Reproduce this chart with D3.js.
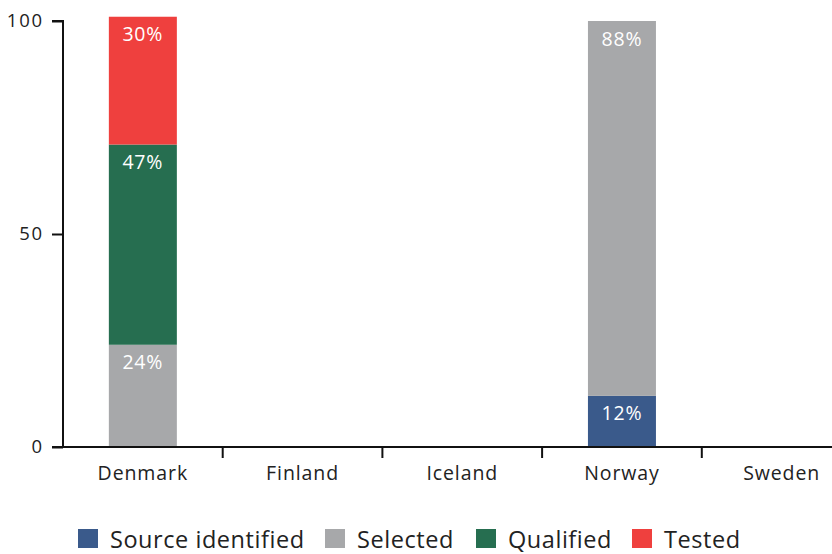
<!DOCTYPE html>
<html>
<head>
<meta charset="utf-8">
<script src="https://cdn.jsdelivr.net/npm/d3@7"></script>
<style>
  html, body { margin: 0; padding: 0; background: #fff; }
  svg { display: block; font-family: "Open Sans", Lato, sans-serif; }
</style>
</head>
<body>
<svg id="chart" width="832" height="554"></svg>
<script>
// Countries on the x axis
const countries = ["Denmark", "Finland", "Iceland", "Norway", "Sweden"];
// Stage names, stacked bottom to top
const stages = ["Source identified", "Selected", "Qualified", "Tested"];
const stageColors = ["#3a5a8b", "#a7a8aa", "#266e50", "#ef403e"];
// Percentage per stage for each country
const sourceIdentified = [0, 0, 0, 12, 0];
const selected = [24, 0, 0, 88, 0];
const qualified = [47, 0, 0, 0, 0];
const tested = [30, 0, 0, 0, 0];
const yTicks = [0, 50, 100];

const seriesValues = [sourceIdentified, selected, qualified, tested];
const rows = countries.map((c, i) => {
  const r = { country: c };
  stages.forEach((s, k) => { r[s] = seriesValues[k][i]; });
  return r;
});

const svg = d3.select("#chart");
const plotLeft = 63, plotTop = 21, plotBottom = 447, bandW = 159.7;

const x = d3.scaleBand().domain(countries)
  .range([plotLeft, plotLeft + bandW * countries.length]).padding(0);
const y = d3.scaleLinear().domain([0, 100]).range([plotBottom, plotTop]);

const layers = d3.stack().keys(stages)(rows);
const barW = 68;

const g = svg.append("g");
layers.forEach((layer, k) => {
  layer.forEach((d, i) => {
    const v = d[1] - d[0];
    if (!v) return;
    const cx = x(countries[i]) + x.bandwidth() / 2;
    g.append("rect")
      .attr("x", cx - barW / 2)
      .attr("y", y(d[1]))
      .attr("width", barW)
      .attr("height", y(d[0]) - y(d[1]))
      .attr("fill", stageColors[k]);
    g.append("text")
      .attr("x", cx)
      .attr("y", y(d[1]) + 17)
      .attr("text-anchor", "middle")
      .attr("dominant-baseline", "central")
      .attr("fill", "#fff")
      .attr("font-size", 19.5)
      .attr("letter-spacing", 0.8)
      .text(v + "%");
  });
});

// Y axis
const yAxis = d3.axisLeft(y).tickValues(yTicks).tickSize(11).tickPadding(8);
const ya = svg.append("g").attr("transform", `translate(${plotLeft},0)`).call(yAxis);
ya.select(".domain").attr("stroke", "#111").attr("stroke-width", 2)
  .attr("d", `M-11,${plotTop}H0V${plotBottom}`);
ya.selectAll(".tick line").attr("stroke", "#111").attr("stroke-width", 2);
ya.selectAll(".tick text").attr("font-size", 18.5).attr("fill", "#222")
  .attr("letter-spacing", 1.8)
  .attr("font-family", "'Open Sans', sans-serif");

// X axis with separators between categories
const xa = svg.append("g").attr("transform", `translate(0,${plotBottom})`);
xa.append("line").attr("x1", plotLeft - 11).attr("x2", 832).attr("y1", 0).attr("y2", 0)
  .attr("stroke", "#111").attr("stroke-width", 2);
countries.slice(1).forEach(c => {
  xa.append("line").attr("x1", x(c)).attr("x2", x(c)).attr("y1", 0).attr("y2", 11)
    .attr("stroke", "#111").attr("stroke-width", 2);
});
countries.forEach(c => {
  xa.append("text")
    .attr("x", x(c) + x.bandwidth() / 2)
    .attr("y", 25)
    .attr("text-anchor", "middle")
    .attr("dominant-baseline", "central")
    .attr("font-size", 19.5).attr("fill", "#222")
    .attr("letter-spacing", 0.9)
    .text(c);
});

// Legend
const legendX = [78, 325, 476, 632];
const lg = svg.append("g");
stages.forEach((s, k) => {
  lg.append("rect").attr("x", legendX[k]).attr("y", 529)
    .attr("width", 20).attr("height", 19).attr("fill", stageColors[k]);
  lg.append("text").attr("x", legendX[k] + 32).attr("y", 539)
    .attr("dominant-baseline", "central")
    .attr("font-size", 23.5).attr("fill", "#222")
    .attr("letter-spacing", 0.55)
    .text(s);
});
</script>
</body>
</html>
